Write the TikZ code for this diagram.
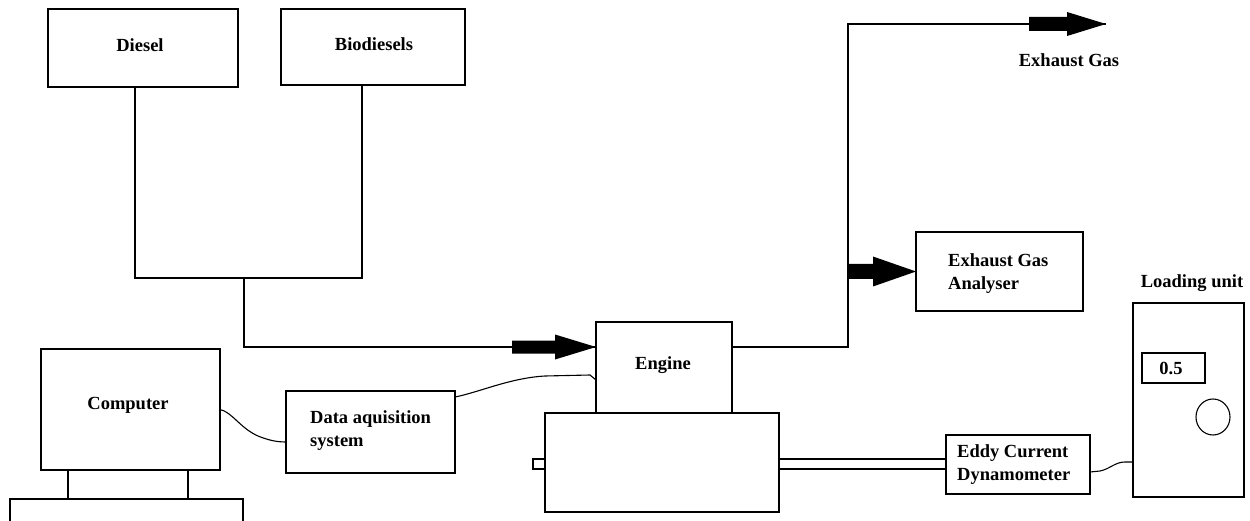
\documentclass[tikz,border=0pt]{standalone}
\usepackage{fontspec}
\setmainfont{Liberation Serif}
\usetikzlibrary{shapes.geometric}
\begin{document}
\begin{tikzpicture}[x=1pt,y=-1pt,
  box/.style={draw, line width=1.2pt, inner sep=0pt, outer sep=0pt, anchor=north west},
  lbl/.style={inner sep=0pt, font=\fontsize{18.5}{23}\selectfont\bfseries},
  mlbl/.style={lbl, anchor=west, align=left},
  ln/.style={line width=1.2pt},
  wire/.style={line width=1.1pt}]
\useasboundingbox (0,0) rectangle (1250,521);
% boxes
\node[box, minimum width=190, minimum height=78] (diesel) at (48,9) {};
\node[box, minimum width=184, minimum height=76] (bio) at (281,9) {};
\node[box, minimum width=179, minimum height=121] (computer) at (41,349) {};
\node[box, minimum width=169, minimum height=82] (daq) at (286,391) {};
\node[box, minimum width=136, minimum height=91] (engine) at (596,322) {};
\node[box, minimum width=234, minimum height=99] (block) at (545,413) {};
\node[box, minimum width=12, minimum height=10] (stub) at (533,459) {};
\node[box, minimum width=144, minimum height=59] (eddy) at (946,435) {};
\node[box, minimum width=167, minimum height=79] (analyser) at (916,232) {};
\node[box, minimum width=111, minimum height=194] (loading) at (1133,303) {};
\node[box, minimum width=63, minimum height=30] (display) at (1142,353) {};
\node[draw, line width=1.1pt, ellipse, minimum width=34, minimum height=36, inner sep=0pt] (knob) at (1213,417) {};
\node[inner sep=0pt, outer sep=0pt, minimum width=233, minimum height=22, anchor=north west] (pcbase) at (10,499) {};
\draw[ln] (pcbase.south west) -- (pcbase.north west) -- (pcbase.north east) -- (pcbase.south east);
% labels
\node[lbl] (tdiesel) at (140,45) {Diesel};
\node[lbl] (tbio) at (374,44) {Biodiesels};
\node[lbl] (tcomp) at (128,405) {Computer};
\node[mlbl] (tdaq) at (310,430.5) {Data aquisition\\system};
\node[lbl] (teng) at (663,365) {Engine};
\node[lbl] (texh) at (1069,60) {Exhaust Gas};
\node[mlbl] (tana) at (948,274) {Exhaust Gas\\Analyser};
\node[lbl] (tload) at (1192,283) {Loading unit};
\node[lbl] (tdisp) at (1171,368) {0.5};
\node[mlbl] (teddy) at (957,465) {Eddy Current\\Dynamometer};
% computer legs
\coordinate (leg1) at ([xshift=27pt]computer.south west);
\coordinate (leg2) at ([xshift=147pt]computer.south west);
\draw[ln] (leg1) -- (leg1 |- pcbase.north);
\draw[ln] (leg2) -- (leg2 |- pcbase.north);
% fuel lines
\coordinate (jd) at (135,278);
\coordinate (jb) at (362,278);
\coordinate (jm) at (244,278);
\draw[ln] (diesel.south -| jd) -- (jd) -- (jb) -- (bio.south -| jb);
\coordinate (ein) at ([yshift=20.5pt]engine.west);
\draw[ln] (jm) |- (ein);
\fill (ein) -- ++(-41,-12.5) -- ++(0,6) -- ++(-43,0) -- ++(0,13) -- ++(43,0) -- ++(0,6) -- cycle;
% exhaust
\coordinate (bend) at (848,24);
\coordinate (gastip) at (1106,24);
\draw[ln] ([yshift=20.5pt]engine.east) -| (bend) -- (gastip);
\fill (gastip) -- ++(-39,-12) -- ++(0,5) -- ++(-38,0) -- ++(0,14) -- ++(38,0) -- ++(0,5) -- cycle;
\fill (analyser.west) -- ++(-43,-15) -- ++(0,7.5) -- ++(-25,0) -- ++(0,15) -- ++(25,0) -- ++(0,7.5) -- cycle;
% shaft
\coordinate (s1) at ([yshift=3.5pt]block.east);
\coordinate (s2) at ([yshift=-6.5pt]block.east);
\draw[ln] (s1) -- (s1 -| eddy.west);
\draw[ln] (s2) -- (s2 -| eddy.west);
% wires
\draw[wire] (computer.east) .. controls (232,412) and (240,428) .. (258,436) .. controls (268,440) and (276,442) .. ([yshift=-10pt]daq.west);
\draw[wire] ([yshift=35pt]daq.east) .. controls (480,392) and (510,378) .. (545,376) -- (590,375) -- ([yshift=-12.5pt]engine.west);
\draw[wire] ([yshift=-7.5pt]eddy.east) -- (1100,471) .. controls (1110,469) and (1115,462) .. (1125,462) -- ([yshift=-62pt]loading.west);
\end{tikzpicture}
\end{document}
